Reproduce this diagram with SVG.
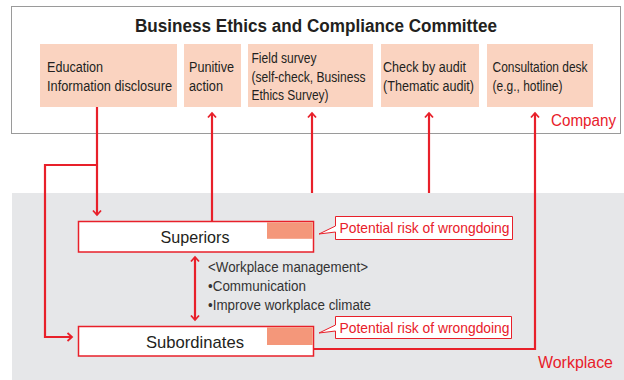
<svg xmlns="http://www.w3.org/2000/svg" width="624" height="380" viewBox="0 0 624 380">
<style>
  .t { font-family: "Liberation Sans", Arial, sans-serif; fill: #231f20; }
  .box { font-size: 14px; }
  .mg { font-size: 14px; fill: #333333; }
  .peach { fill: #fad3c0; }
  .node { fill: #ffffff; stroke: #e8202a; stroke-width: 1.5; }
  .risk { fill: #f4977a; }
  .call { fill: #ffffff; stroke: #e8202a; stroke-width: 1; }
  .red { fill: #e8202a; font-family: "Liberation Sans", Arial, sans-serif; }
  .ln { fill: none; stroke: #e8202a; stroke-width: 2.2; }
</style>
<defs>
  <marker id="ah" viewBox="-6 -6 8 12" markerWidth="8" markerHeight="12" refX="0" refY="0" orient="auto" markerUnits="userSpaceOnUse">
    <path d="M-4.5,-4 L0,0 L-4.5,4" fill="none" stroke="#e8202a" stroke-width="1.8"/>
  </marker>
  <marker id="ahs" viewBox="-6 -6 8 12" markerWidth="8" markerHeight="12" refX="0" refY="0" orient="auto-start-reverse" markerUnits="userSpaceOnUse">
    <path d="M-4.5,-4 L0,0 L-4.5,4" fill="none" stroke="#e8202a" stroke-width="1.8"/>
  </marker>
</defs>
<rect width="624" height="380" fill="#ffffff"/>
<rect x="12" y="193" width="612" height="187" fill="#e6e7e9"/>
<g id="company">
  <rect x="11.5" y="6.5" width="609" height="127" fill="none" stroke="#9a9a9a" stroke-width="1"/>
  <text class="t" x="316" y="32" font-size="18" font-weight="bold" text-anchor="middle" textLength="362" lengthAdjust="spacingAndGlyphs">Business Ethics and Compliance Committee</text>
  <text class="red" x="551" y="126" font-size="16" textLength="65" lengthAdjust="spacingAndGlyphs">Company</text>
</g>
<g id="workplace-label">
  <text class="red" x="538" y="368" font-size="16.5" textLength="75" lengthAdjust="spacingAndGlyphs">Workplace</text>
</g>
<g id="education">
  <rect class="peach" x="40" y="44" width="137" height="63"/>
  <text class="t box" x="47" y="72" textLength="56" lengthAdjust="spacingAndGlyphs">Education</text>
  <text class="t box" x="47" y="91" textLength="125" lengthAdjust="spacingAndGlyphs">Information disclosure</text>
</g>
<g id="punitive">
  <rect class="peach" x="184" y="44" width="57" height="63"/>
  <text class="t box" x="189" y="72" textLength="45" lengthAdjust="spacingAndGlyphs">Punitive</text>
  <text class="t box" x="189" y="91" textLength="34" lengthAdjust="spacingAndGlyphs">action</text>
</g>
<g id="survey">
  <rect class="peach" x="248" y="44" width="125" height="63"/>
  <text class="t box" x="251.5" y="63" textLength="65" lengthAdjust="spacingAndGlyphs">Field survey</text>
  <text class="t box" x="251.5" y="81.5" textLength="114" lengthAdjust="spacingAndGlyphs">(self-check, Business</text>
  <text class="t box" x="251.5" y="100" textLength="77" lengthAdjust="spacingAndGlyphs">Ethics Survey)</text>
</g>
<g id="audit">
  <rect class="peach" x="381" y="44" width="98" height="63"/>
  <text class="t box" x="383" y="72" textLength="83" lengthAdjust="spacingAndGlyphs">Check by audit</text>
  <text class="t box" x="383" y="91" textLength="91" lengthAdjust="spacingAndGlyphs">(Thematic audit)</text>
</g>
<g id="consult">
  <rect class="peach" x="487" y="44" width="106" height="63"/>
  <text class="t box" x="492.5" y="72" textLength="95" lengthAdjust="spacingAndGlyphs">Consultation desk</text>
  <text class="t box" x="492.5" y="91" textLength="70" lengthAdjust="spacingAndGlyphs">(e.g., hotline)</text>
</g>
<g id="connectors">
  <path class="ln" d="M97,107 V215" marker-end="url(#ah)"/>
  <path class="ln" d="M97,165 H45 V337 H72" marker-end="url(#ah)"/>
  <path class="ln" d="M212,221 V113" marker-end="url(#ah)"/>
  <path class="ln" d="M312,193 V113" marker-end="url(#ah)"/>
  <path class="ln" d="M429,193 V113" marker-end="url(#ah)"/>
  <path class="ln" d="M313,349 H535 V113" marker-end="url(#ah)"/>
  <path class="ln" d="M195,257 V320" stroke-width="1.8" marker-start="url(#ahs)" marker-end="url(#ahs)"/>
</g>
<g id="superiors">
  <rect class="node" x="78.5" y="221.5" width="235" height="30.5"/>
  <rect class="risk" x="267" y="222.3" width="45.7" height="16.5"/>
  <text class="t" x="195" y="243" font-size="17" text-anchor="middle" textLength="69" lengthAdjust="spacingAndGlyphs">Superiors</text>
</g>
<g id="risk1">
  <path class="call" d="M335.5,216.5 H512.5 V239.5 H335.5 V232 L319,234 L335.5,226 Z"/>
  <text class="red" x="339.5" y="233" font-size="15" textLength="170" lengthAdjust="spacingAndGlyphs">Potential risk of wrongdoing</text>
</g>
<g id="management">
  <text class="t mg" x="208" y="272" textLength="160" lengthAdjust="spacingAndGlyphs">&lt;Workplace management&gt;</text>
  <text class="t mg" x="208" y="291" textLength="98" lengthAdjust="spacingAndGlyphs">•Communication</text>
  <text class="t mg" x="208" y="310" textLength="163" lengthAdjust="spacingAndGlyphs">•Improve workplace climate</text>
</g>
<g id="subordinates">
  <rect class="node" x="78.5" y="326.5" width="235" height="29.5"/>
  <rect class="risk" x="267" y="327.3" width="45.7" height="17.7"/>
  <text class="t" x="195" y="348" font-size="17" text-anchor="middle" textLength="98" lengthAdjust="spacingAndGlyphs">Subordinates</text>
</g>
<g id="risk2">
  <path class="call" d="M335.5,316.5 H511.5 V338.5 H335.5 V331 L319,333 L335.5,325 Z"/>
  <text class="red" x="339.5" y="333" font-size="15" textLength="170" lengthAdjust="spacingAndGlyphs">Potential risk of wrongdoing</text>
</g>
</svg>
